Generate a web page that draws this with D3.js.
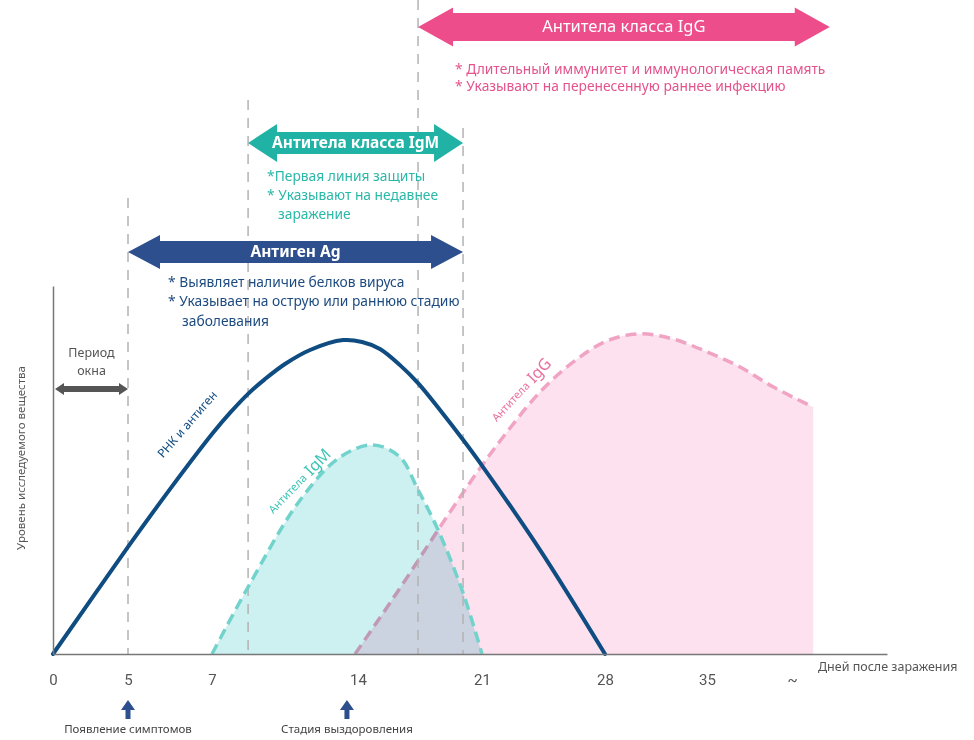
<!DOCTYPE html>
<html lang="ru">
<head>
<meta charset="utf-8">
<title>Антиген, антитела IgM и IgG</title>
<script src="https://cdn.jsdelivr.net/npm/d3@7"></script>
<style>
  body { margin: 0; background: #fff; }
  svg { display: block; font-family: "Noto Sans", "Open Sans", sans-serif; }
</style>
</head>
<body>
<svg id="chart"></svg>
<script>
// ---- data (days after infection, level in % of axis height) ----
const tickDays = [0, 5, 7, 14, 21, 28, 35, 42];
const tickLabels = ["0", "5", "7", "14", "21", "28", "35", "~"];

const antigenCurve = [[0, 0], [5, 29.1], [6, 44.8], [7.05, 60.1], [7.86, 65.5], [8.73, 70.7],
    [9.54, 74.7], [10.5, 78.8], [11.7, 82.6], [13.28, 85.3], [14.23, 84.8], [15.24, 82.9],
    [16.37, 78.5], [17.39, 73.6], [18.63, 66.3], [19.93, 58.2], [21.06, 50.8], [24.3, 28.3], [28, 0]];
const igmCurve = [[7, 0], [8.73, 18.2], [11.22, 41.8], [13.14, 53.5], [14.85, 56.8], [16.37, 53.5],
    [17.39, 44.6], [18.52, 33.7], [19.93, 16.6], [21, 0]];
const iggCurve = [[13.86, 0], [16.37, 17.9], [18.63, 34.5], [20.89, 50.5], [22.42, 60.3], [24.3, 71.2],
    [26.18, 79.3], [28.14, 85.1], [30.4, 87.0], [32.67, 85.6], [35, 82.1], [37.72, 78.0], [40.44, 72.6], [43.74, 67.1]];

const bandLabels = ["Антитела класса IgG", "Антитела класса IgM", "Антиген Ag"];
const bandFrom = [17.39, 8.73, 5];
const bandTo = [45.1, 19.93, 19.93];
const bandNotes = [
    ["* Длительный иммунитет и иммунологическая память", "* Указывают на перенесенную раннее инфекцию"],
    ["*Первая линия защиты", "* Указывают на недавнее", "заражение"],
    ["* Выявляет наличие белков вируса", "* Указывает на острую или раннюю стадию", "заболевания"]
];

const markerDays = [5, 13.47];
const markerLabels = ["Появление симптомов", "Стадия выздоровления"];
const windowDays = [0, 5];

// ---- layout ----
const width = 974, height = 740;
const baseY = 654, topY = 286;
const colors = {
    antigen: "#0f4c81", igmLine: "#72d3cc", igmFill: "#cdf0f0",
    iggLine: "#f0a3c3", iggFill: "#fde1ee", guide: "#b3b3b3", axis: "#777", text: "#555"
};
const bandStyle = [
    {cy: 27, body: 14, head: 19.5, len: 35, fill: "#ee4d8b", note: "#e4538c", size: 16.5, weight: 400, nx: 37, ny: 43, step: 17.5, indent: 0},
    {cy: 143, body: 11, head: 19, len: 29, fill: "#20b3a5", note: "#2ab8a8", size: 15.5, weight: 700, nx: 19, ny: 34, step: 19, indent: 11},
    {cy: 252, body: 11, head: 17, len: 32, fill: "#2d4f8d", note: "#1d4b80", size: 15.5, weight: 700, nx: 40, ny: 31, step: 19.5, indent: 14}
];
const guideTop = new Map([[5, 198], [8.73, 100], [17.39, 0], [19.93, 128]]);

const svg = d3.select("#chart").attr("width", width).attr("height", height);

// uneven day axis, as in the picture
const x = d3.scaleLinear()
    .domain([0, 5, 7, 14, 21, 28, 35, 42, 49.8])
    .range([53, 128, 212, 358, 482, 605, 707, 792, 887]);
const y = d3.scaleLinear().domain([0, 100]).range([baseY, topY]);

const line = d3.line().x(d => x(d[0])).y(d => y(d[1])).curve(d3.curveCatmullRom.alpha(0.5));
const area = d3.area().x(d => x(d[0])).y0(y(0)).y1(d => y(d[1])).curve(d3.curveCatmullRom.alpha(0.5));

function doubleArrow(x0, x1, cy, body, head, len) {
    const pts = [[x0, cy], [x0 + len, cy - head], [x0 + len, cy - body], [x1 - len, cy - body],
        [x1 - len, cy - head], [x1, cy], [x1 - len, cy + head], [x1 - len, cy + body],
        [x0 + len, cy + body], [x0 + len, cy + head]];
    return d3.line()(pts) + "Z";
}

// fills and dashed curves
svg.append("path").attr("d", area(iggCurve)).attr("fill", colors.iggFill);
svg.append("path").attr("d", line(iggCurve))
    .attr("fill", "none").attr("stroke", colors.iggLine)
    .attr("stroke-width", 3.5).attr("stroke-dasharray", "11,6");
svg.append("path").attr("d", area(igmCurve)).attr("fill", colors.igmFill)
    .style("mix-blend-mode", "multiply");

// vertical guides at the band ends
svg.selectAll(".guide")
    .data(Array.from(guideTop.keys()))
    .enter()
    .append("line")
    .attr("class", "guide")
    .attr("x1", d => x(d)).attr("x2", d => x(d))
    .attr("y1", d => guideTop.get(d)).attr("y2", baseY)
    .attr("stroke", colors.guide).attr("stroke-width", 1.5)
    .attr("stroke-dasharray", "10,8");

svg.append("path").attr("d", line(igmCurve))
    .attr("fill", "none").attr("stroke", colors.igmLine)
    .attr("stroke-width", 3.5).attr("stroke-dasharray", "11,6");
svg.append("path").attr("d", line(antigenCurve))
    .attr("fill", "none").attr("stroke", colors.antigen)
    .attr("stroke-width", 4).attr("stroke-linecap", "round");

// axes
const xAxis = svg.append("g")
    .attr("transform", `translate(0,${baseY})`)
    .call(d3.axisBottom(x).tickValues(tickDays).tickFormat((d, i) => tickLabels[i])
        .tickSize(0).tickPadding(20));
xAxis.select(".domain").attr("stroke", colors.axis).attr("stroke-width", 1.5);
xAxis.selectAll("text")
    .style("font-family", "Roboto, sans-serif")
    .style("font-size", "15px")
    .attr("fill", colors.text);

const yAxis = svg.append("g")
    .attr("transform", `translate(${x(0)},0)`)
    .call(d3.axisLeft(y).tickValues([]).tickSizeOuter(0));
yAxis.select(".domain").attr("stroke", colors.axis).attr("stroke-width", 1.5);

svg.append("text")
    .attr("transform", `translate(22,458) rotate(-90)`)
    .attr("text-anchor", "middle").attr("dominant-baseline", "middle")
    .style("font-size", "11.5px").attr("fill", colors.text)
    .text("Уровень исследуемого вещества");

svg.append("text")
    .attr("x", 818).attr("y", 668)
    .attr("dominant-baseline", "middle")
    .style("font-size", "12.5px").attr("fill", colors.text)
    .text("Дней после заражения");

// curve labels
function curveLabel(day, level, angle, small, big, color) {
    const t = svg.append("text")
        .attr("transform", `translate(${x(day)},${y(level)}) rotate(${angle})`)
        .attr("text-anchor", "middle").attr("dominant-baseline", "middle")
        .attr("fill", color);
    t.append("tspan").style("font-size", big ? "11px" : "12px").text(small);
    if (big) t.append("tspan").style("font-size", "16px").text(" " + big);
}
curveLabel(6.43, 62.2, -49, "РНК и антиген", null, colors.antigen);
curveLabel(11.22, 46.7, -46, "Антитела", "IgM", "#3cc3b6");
curveLabel(23.27, 71.5, -47, "Антитела", "IgG", "#e8709f");

// window period
const wy = 389;
svg.append("path")
    .attr("d", doubleArrow(x(windowDays[0]) + 2, x(windowDays[1]), wy, 3, 6, 9))
    .attr("fill", "#555");
svg.append("text")
    .attr("text-anchor", "middle").attr("fill", colors.text)
    .style("font-size", "12.5px")
    .selectAll("tspan")
    .data(["Период", "окна"])
    .enter()
    .append("tspan")
    .attr("x", (x(windowDays[0]) + x(windowDays[1])) / 2 + 1)
    .attr("y", (d, i) => 357 + i * 18)
    .text(d => d);

// band arrows with notes
bandLabels.forEach((label, i) => {
    const s = bandStyle[i];
    const x0 = x(bandFrom[i]), x1 = x(bandTo[i]);
    svg.append("path")
        .attr("d", doubleArrow(x0, x1, s.cy, s.body, s.head, s.len))
        .attr("fill", s.fill);
    svg.append("text")
        .attr("x", (x0 + x1) / 2).attr("y", s.cy + 1)
        .attr("text-anchor", "middle").attr("dominant-baseline", "middle")
        .attr("fill", "#fff")
        .style("font-size", s.size + "px").style("font-weight", s.weight)
        .text(label);
    svg.selectAll(".note" + i)
        .data(bandNotes[i])
        .enter()
        .append("text")
        .attr("class", "note" + i)
        .attr("x", d => x0 + s.nx + (d.startsWith("*") ? 0 : s.indent))
        .attr("y", (d, j) => s.cy + s.ny + j * s.step)
        .attr("dominant-baseline", "middle")
        .attr("fill", s.note)
        .style("font-size", "13.8px")
        .text(d => d);
});

// markers under the axis
const markers = svg.selectAll(".marker")
    .data(markerDays)
    .enter()
    .append("g")
    .attr("class", "marker")
    .attr("transform", d => `translate(${x(d)},0)`);
markers.append("path")
    .attr("d", d3.line()([[0, 700], [7, 710], [2.5, 710], [2.5, 719], [-2.5, 719], [-2.5, 710], [-7, 710]]) + "Z")
    .attr("fill", "#2d4f8d");
markers.append("text")
    .attr("y", 730)
    .attr("text-anchor", "middle").attr("dominant-baseline", "middle")
    .style("font-size", "11.5px").attr("fill", "#444")
    .text((d, i) => markerLabels[i]);
</script>
</body>
</html>
